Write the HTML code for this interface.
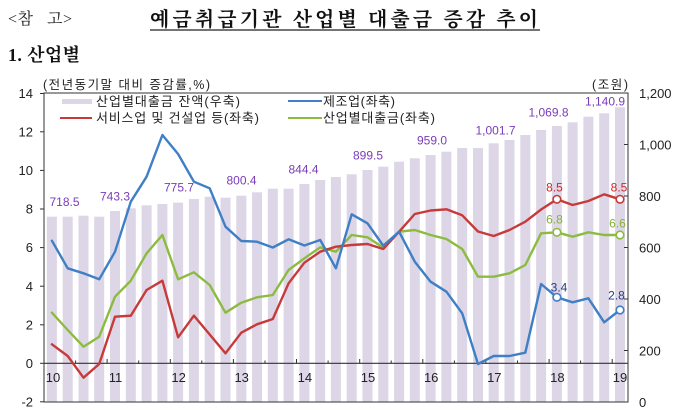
<!DOCTYPE html>
<html><head><meta charset="utf-8">
<style>
html,body{margin:0;padding:0;background:#fff;}
svg{display:block;}
.ax{font-family:"Liberation Sans",Arial,sans-serif;font-size:13px;fill:#222;}
.kr{font-family:"Liberation Sans","Noto Sans CJK KR",sans-serif;fill:#222;}
.lab{font-family:"Liberation Sans",Arial,sans-serif;font-size:12px;text-anchor:middle;}
</style></head>
<body>
<svg width="680" height="415" viewBox="0 0 680 415" xmlns="http://www.w3.org/2000/svg">
<rect width="680" height="415" fill="#fff"/>
<!-- Titles -->
<text x="8" y="24" font-family="'Liberation Serif','Noto Serif CJK KR','Noto Serif CJK SC',serif" font-size="16" fill="#222" textLength="64" lengthAdjust="spacing">&lt;참&#160;&#160;&#160;고&gt;</text>
<text x="150" y="26" font-family="'Liberation Serif','Noto Serif CJK KR','Noto Serif CJK SC',serif" font-size="20" font-weight="bold" fill="#111" textLength="388" lengthAdjust="spacing">예금취급기관 산업별 대출금 증감 추이</text>
<line x1="150" y1="30" x2="540" y2="30" stroke="#222" stroke-width="1.3"/>
<text x="8" y="61" font-family="'Liberation Serif','Noto Serif CJK KR','Noto Serif CJK SC',serif" font-size="18" font-weight="bold" fill="#111" textLength="72" lengthAdjust="spacing">1. 산업별</text>
<text x="43" y="89" class="kr" font-size="12.5" textLength="167" lengthAdjust="spacing">(전년동기말 대비 증감률,%)</text>
<text x="592" y="89" class="kr" font-size="12.5" textLength="36" lengthAdjust="spacing">(조원)</text>

<!-- Bars -->
<g fill="#ddd6e7">
<rect x="46.9" y="216.7" width="10" height="185.3"/>
<rect x="62.7" y="216.7" width="10" height="185.3"/>
<rect x="78.5" y="215.7" width="10" height="186.3"/>
<rect x="94.2" y="216.7" width="10" height="185.3"/>
<rect x="110.0" y="211.0" width="10" height="191.0"/>
<rect x="125.8" y="208.3" width="10" height="193.7"/>
<rect x="141.6" y="205.3" width="10" height="196.7"/>
<rect x="157.4" y="204.0" width="10" height="198.0"/>
<rect x="173.1" y="202.7" width="10" height="199.3"/>
<rect x="188.9" y="199.0" width="10" height="203.0"/>
<rect x="204.7" y="196.7" width="10" height="205.3"/>
<rect x="220.5" y="197.7" width="10" height="204.3"/>
<rect x="236.3" y="195.7" width="10" height="206.3"/>
<rect x="252.0" y="192.3" width="10" height="209.7"/>
<rect x="267.8" y="188.7" width="10" height="213.3"/>
<rect x="283.6" y="188.7" width="10" height="213.3"/>
<rect x="299.4" y="184.0" width="10" height="218.0"/>
<rect x="315.2" y="180.0" width="10" height="222.0"/>
<rect x="330.9" y="177.0" width="10" height="225.0"/>
<rect x="346.7" y="174.3" width="10" height="227.7"/>
<rect x="362.5" y="170.0" width="10" height="232.0"/>
<rect x="378.3" y="166.7" width="10" height="235.3"/>
<rect x="394.1" y="161.7" width="10" height="240.3"/>
<rect x="409.8" y="158.3" width="10" height="243.7"/>
<rect x="425.6" y="155.0" width="10" height="247.0"/>
<rect x="441.4" y="151.7" width="10" height="250.3"/>
<rect x="457.2" y="148.0" width="10" height="254.0"/>
<rect x="473.0" y="148.0" width="10" height="254.0"/>
<rect x="488.7" y="143.3" width="10" height="258.7"/>
<rect x="504.5" y="140.0" width="10" height="262.0"/>
<rect x="520.3" y="135.0" width="10" height="267.0"/>
<rect x="536.1" y="130.0" width="10" height="272.0"/>
<rect x="551.9" y="126.0" width="10" height="276.0"/>
<rect x="567.6" y="122.3" width="10" height="279.7"/>
<rect x="583.4" y="116.7" width="10" height="285.3"/>
<rect x="599.2" y="113.3" width="10" height="288.7"/>
<rect x="615.0" y="107.3" width="10" height="294.7"/>
</g>

<!-- Frame -->
<rect x="44" y="93" width="584" height="309" fill="none" stroke="#333" stroke-width="1"/>
<!-- zero line -->
<line x1="44" y1="363.3" x2="628" y2="363.3" stroke="#333" stroke-width="1.2"/>
<!-- x ticks -->
<g stroke="#333" stroke-width="1">
<line x1="75.6" y1="363" x2="75.6" y2="360.5"/>
<line x1="107.1" y1="363" x2="107.1" y2="359"/>
<line x1="138.7" y1="363" x2="138.7" y2="360.5"/>
<line x1="170.3" y1="363" x2="170.3" y2="359"/>
<line x1="201.8" y1="363" x2="201.8" y2="360.5"/>
<line x1="233.4" y1="363" x2="233.4" y2="359"/>
<line x1="265.0" y1="363" x2="265.0" y2="360.5"/>
<line x1="296.5" y1="363" x2="296.5" y2="359"/>
<line x1="328.1" y1="363" x2="328.1" y2="360.5"/>
<line x1="359.7" y1="363" x2="359.7" y2="359"/>
<line x1="391.2" y1="363" x2="391.2" y2="360.5"/>
<line x1="422.8" y1="363" x2="422.8" y2="359"/>
<line x1="454.4" y1="363" x2="454.4" y2="360.5"/>
<line x1="485.9" y1="363" x2="485.9" y2="359"/>
<line x1="517.5" y1="363" x2="517.5" y2="360.5"/>
<line x1="549.1" y1="363" x2="549.1" y2="359"/>
<line x1="580.6" y1="363" x2="580.6" y2="360.5"/>
<line x1="612.2" y1="363" x2="612.2" y2="359"/>
</g>
<!-- left ticks -->
<g stroke="#333" stroke-width="1">
<line x1="40" y1="93.5" x2="44" y2="93.5"/>
<line x1="40" y1="131.8" x2="44" y2="131.8"/>
<line x1="40" y1="170.4" x2="44" y2="170.4"/>
<line x1="40" y1="209" x2="44" y2="209"/>
<line x1="40" y1="247.6" x2="44" y2="247.6"/>
<line x1="40" y1="286.2" x2="44" y2="286.2"/>
<line x1="40" y1="324.8" x2="44" y2="324.8"/>
<line x1="40" y1="363.3" x2="44" y2="363.3"/>
<line x1="40" y1="401.8" x2="44" y2="401.8"/>
</g>
<!-- right ticks -->
<g stroke="#333" stroke-width="1">
<line x1="624" y1="144.5" x2="628" y2="144.5"/>
<line x1="624" y1="196" x2="628" y2="196"/>
<line x1="624" y1="247.5" x2="628" y2="247.5"/>
<line x1="624" y1="299" x2="628" y2="299"/>
<line x1="624" y1="350.5" x2="628" y2="350.5"/>
</g>

<!-- left axis labels -->
<g class="ax" text-anchor="end">
<text x="33" y="98">14</text>
<text x="33" y="136.5">12</text>
<text x="33" y="175">10</text>
<text x="33" y="213.5">8</text>
<text x="33" y="252">6</text>
<text x="33" y="291">4</text>
<text x="33" y="329.5">2</text>
<text x="33" y="368">0</text>
<text x="33" y="406.5">-2</text>
</g>
<!-- right axis labels -->
<g class="ax">
<text x="639" y="98">1,200</text>
<text x="639" y="149.5">1,000</text>
<text x="639" y="201">800</text>
<text x="639" y="252.5">600</text>
<text x="639" y="304">400</text>
<text x="639" y="355.5">200</text>
<text x="639" y="407">0</text>
</g>
<!-- year labels -->
<g class="ax" text-anchor="middle">
<text x="53" y="382">10</text>
<text x="115.5" y="382">11</text>
<text x="178.6" y="382">12</text>
<text x="241.7" y="382">13</text>
<text x="304.9" y="382">14</text>
<text x="368" y="382">15</text>
<text x="431.2" y="382">16</text>
<text x="494.3" y="382">17</text>
<text x="557.4" y="382">18</text>
<text x="620" y="382">19</text>
</g>

<!-- Lines -->
<g fill="none" stroke-width="2.4" stroke-linejoin="round" stroke-linecap="round">
<polyline stroke="#8cbc3f" points="51.9,312.7 67.7,330 83.5,346.7 99.2,336.7 115,296.7 130.8,280.7 146.6,253.3 162.4,235 178.1,279.3 193.9,272.3 209.7,285 225.5,312.7 241.3,302.7 257,297.3 272.8,295 288.6,270 304.4,258.3 320.2,247.3 335.9,251.7 351.7,235 367.5,237.3 383.3,247.7 399.1,231.7 414.8,230 430.6,235 446.4,239 462.2,249 478,276.7 493.7,276.7 509.5,273.3 525.3,265 541.1,233.3 556.9,232.3 572.6,236.7 588.4,232.3 604.2,235 620,235"/>
<polyline stroke="#c83a3a" points="51.9,344.3 67.7,356 83.5,377.7 99.2,364 115,316.7 130.8,315.7 146.6,290 162.4,280.7 178.1,337.3 193.9,315.7 209.7,334.5 225.5,353.3 241.3,332.7 257,324.3 272.8,319 288.6,283.3 304.4,262.7 320.2,251.7 335.9,246.7 351.7,245 367.5,244 383.3,249 399.1,231.7 414.8,214 430.6,210.5 446.4,209.3 462.2,215.3 478,231.5 493.7,236 509.5,230 525.3,221.7 541.1,209.5 556.9,199.3 572.6,205 588.4,201 604.2,194.3 620,199.3"/>
<polyline stroke="#3e7fc6" points="51.9,240.7 67.7,268.3 83.5,273.3 99.2,279.3 115,251.7 130.8,201.7 146.6,176.7 162.4,135 178.1,154 193.9,181.7 209.7,188.3 225.5,226.7 241.3,241 257,241.7 272.8,247.5 288.6,239.3 304.4,245.5 320.2,240 335.9,268.3 351.7,214.3 367.5,223.3 383.3,245.7 399.1,231.7 414.8,261.7 430.6,281.7 446.4,291.7 462.2,313.3 478,364 493.7,356 509.5,356 525.3,352.7 541.1,284 556.9,297.3 572.6,302.3 588.4,298.3 604.2,322.3 620,310"/>
</g>
<!-- markers -->
<g fill="#fff" stroke-width="1.6">
<circle cx="556.9" cy="199.3" r="3.8" stroke="#c83a3a"/>
<circle cx="620" cy="199.3" r="3.8" stroke="#c83a3a"/>
<circle cx="556.9" cy="232.3" r="3.8" stroke="#8cbc3f"/>
<circle cx="620" cy="235" r="3.8" stroke="#8cbc3f"/>
<circle cx="556.9" cy="297.3" r="3.8" stroke="#3e7fc6"/>
<circle cx="620" cy="310" r="3.8" stroke="#3e7fc6"/>
</g>

<!-- Bar value labels -->
<g class="lab" fill="#7a3cb8">
<text x="64.5" y="206">718.5</text>
<text x="115" y="200.5">743.3</text>
<text x="179" y="191.5">775.7</text>
<text x="241.5" y="184.5">800.4</text>
<text x="303.5" y="173.5">844.4</text>
<text x="368" y="159.5">899.5</text>
<text x="432" y="144.5">959.0</text>
<text x="495.5" y="134.5">1,001.7</text>
<text x="548.5" y="116.5">1,069.8</text>
<text x="605" y="105.5">1,140.9</text>
</g>
<g class="lab">
<text x="554.5" y="191.5" fill="#d02828">8.5</text>
<text x="619" y="191.5" fill="#d02828">8.5</text>
<text x="554.5" y="223.5" fill="#84b236">6.8</text>
<text x="617.5" y="227.5" fill="#84b236">6.6</text>
<text x="559" y="291.5" fill="#213d82">3.4</text>
<text x="616.5" y="299.5" fill="#213d82">2.8</text>
</g>

<!-- Legend -->
<rect x="62" y="99" width="30" height="5" fill="#ddd6e7"/>
<text x="96" y="106" class="kr" font-size="13" textLength="144" lengthAdjust="spacing">산업별대출금 잔액(우축)</text>
<line x1="60" y1="118" x2="92" y2="118" stroke="#c83a3a" stroke-width="2"/>
<text x="96" y="122.5" class="kr" font-size="13" textLength="163" lengthAdjust="spacing">서비스업 및 건설업 등(좌축)</text>
<line x1="288" y1="101" x2="322" y2="101" stroke="#3e7fc6" stroke-width="2"/>
<text x="323" y="106" class="kr" font-size="13" textLength="72" lengthAdjust="spacing">제조업(좌축)</text>
<line x1="288" y1="118" x2="322" y2="118" stroke="#8cbc3f" stroke-width="2"/>
<text x="323" y="122.5" class="kr" font-size="13" textLength="112" lengthAdjust="spacing">산업별대출금(좌축)</text>
</svg>
</body></html>
